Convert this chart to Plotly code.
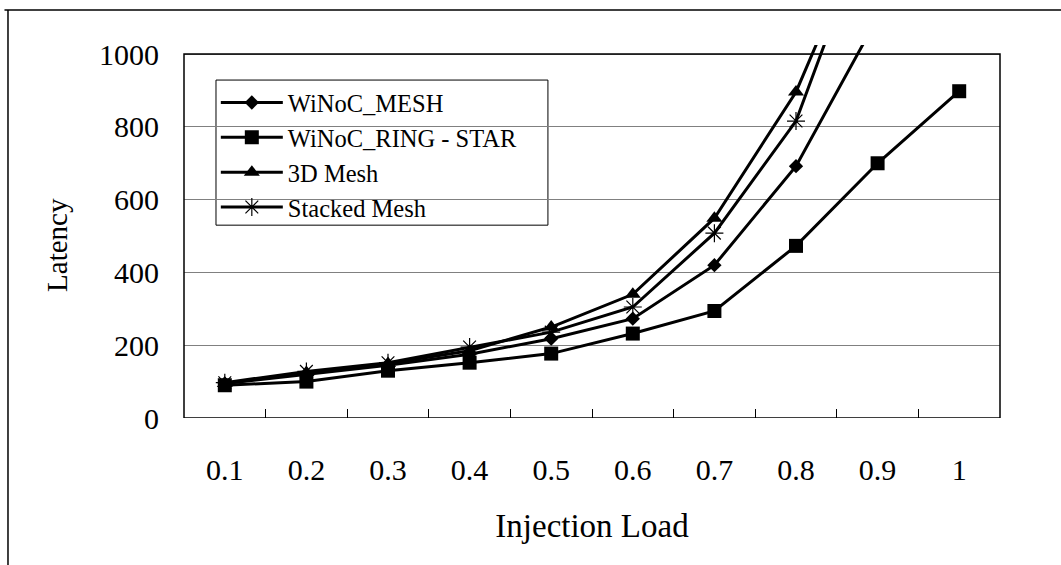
import plotly.graph_objects as go

loads = ["0.1", "0.2", "0.3", "0.4", "0.5", "0.6", "0.7", "0.8", "0.9", "1"]
winoc_mesh = [95, 120, 145, 175, 218, 273, 420, 692, 1100, None]
winoc_ring_star = [90, 100, 130, 152, 177, 232, 294, 473, 700, 898]
mesh_3d = [95, 125, 150, 185, 250, 340, 549, 896, 1420, None]
stacked_mesh = [97, 128, 152, 195, 236, 305, 508, 816, 1420, None]

y_ticks = [0, 200, 400, 600, 800, 1000]

FONT = "Liberation Serif"

series = [
    ("WiNoC_MESH", winoc_mesh, dict(symbol="diamond", size=11, color="black")),
    ("WiNoC_RING - STAR", winoc_ring_star, dict(symbol="square", size=14, color="black")),
    ("3D Mesh", mesh_3d, dict(symbol="triangle-up", size=14, color="black")),
    ("Stacked Mesh", stacked_mesh, dict(symbol="asterisk-open", size=15, color="black",
                                         line=dict(color="black", width=1.2))),
]

fig = go.Figure()
for name, vals, mk in series:
    fig.add_trace(go.Scatter(
        x=loads, y=vals, name=name, mode="lines+markers",
        line=dict(color="black", width=3),
        marker=mk, connectgaps=False,
    ))

# plot-area border (top at 1000 in data units)
fig.add_shape(type="rect", xref="paper", yref="y", x0=0, x1=1, y0=0, y1=1000,
              line=dict(color="black", width=1.5), layer="above")
# legend frame
fig.add_shape(type="rect", xref="paper", yref="paper", x0=0.0392, x1=0.446, y0=0.517, y1=0.906,
              line=dict(color="black", width=1), fillcolor="white", layer="below")
# outer chart border (top and left only visible)
fig.add_shape(type="line", xref="paper", yref="paper", x0=-0.22, x1=1.2, y0=1.094, y1=1.094,
              line=dict(color="black", width=1.5))
fig.add_shape(type="line", xref="paper", yref="paper", x0=-0.2157, x1=-0.2157, y0=1.094, y1=-0.5,
              line=dict(color="black", width=1.5))

# y-axis title
fig.add_annotation(text="Latency", xref="paper", yref="paper", x=-0.1556, y=0.464,
                   xanchor="center", yanchor="middle", textangle=-90, showarrow=False,
                   font=dict(family=FONT, size=29, color="black"))

fig.update_layout(
    width=1061, height=565,
    margin=dict(l=184, r=61, t=45, b=147),
    paper_bgcolor="white", plot_bgcolor="white",
    font=dict(family=FONT, color="black", size=28),
    showlegend=True,
    legend=dict(
        x=0.039, y=0.906, xanchor="left", yanchor="top",
        borderwidth=0, bgcolor="rgba(0,0,0,0)",
        font=dict(family=FONT, size=24.5, color="black"),
        itemwidth=62, tracegroupgap=0,
    ),
)

fig.update_xaxes(
    type="category", range=[-0.5, 9.5],
    showgrid=False, zeroline=False, showline=False,
    ticks="inside", tickson="boundaries", ticklen=9, tickcolor="black", tickwidth=1,
    tickfont=dict(family=FONT, size=30), ticklabelstandoff=31,
    title=dict(text="Injection Load", font=dict(family=FONT, size=33), standoff=28),
)
fig.update_yaxes(
    range=[0, 1025], tickvals=y_ticks, ticktext=[str(v) for v in y_ticks],
    showgrid=True, gridcolor="#808080", gridwidth=1,
    zeroline=False, showline=False, ticks="",
    tickfont=dict(family=FONT, size=30), ticklabelstandoff=24,
)

fig.write_html("out.html")
